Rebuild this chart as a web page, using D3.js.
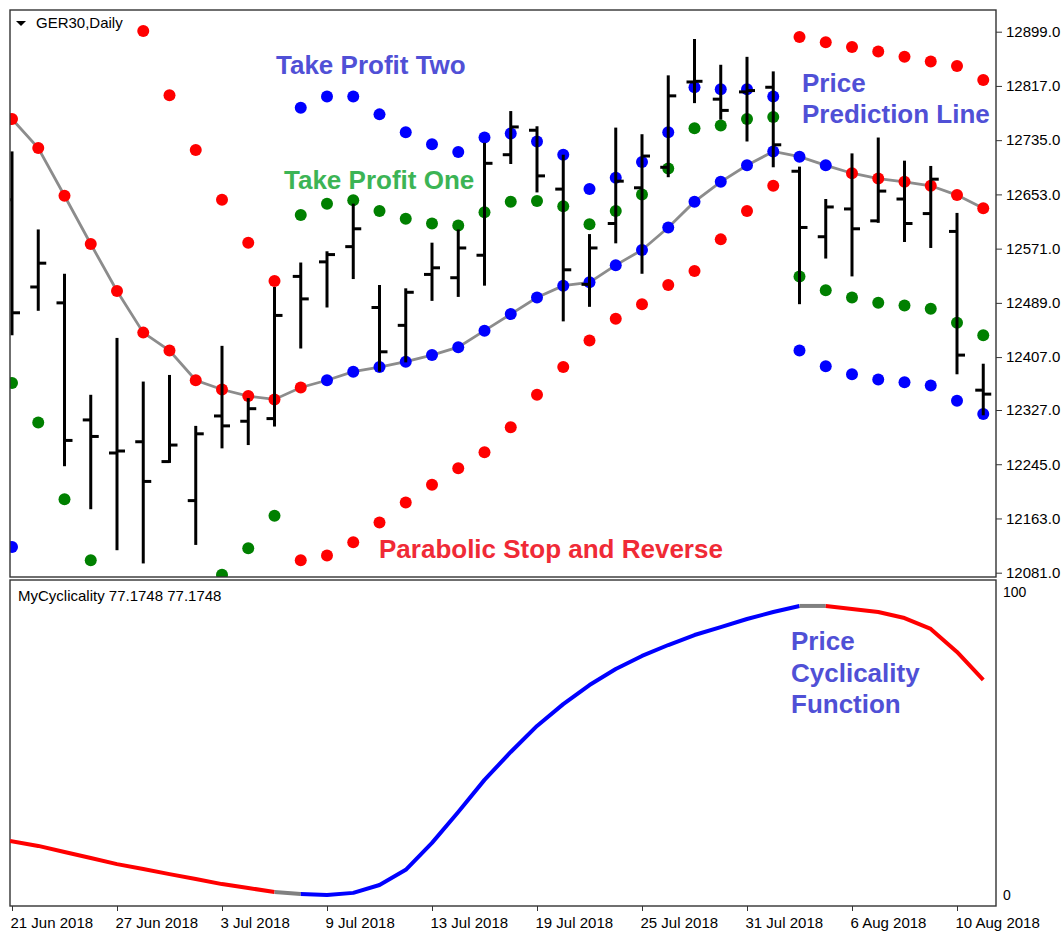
<!DOCTYPE html>
<html>
<head>
<meta charset="utf-8">
<script src="https://cdn.jsdelivr.net/npm/d3@7.9.0/dist/d3.min.js"></script>
<style>
  body { margin: 0; background: #fff; }
  svg text { font-family: "Liberation Sans", Arial, sans-serif; }
</style>
</head>
<body>
<svg id="chart" width="1063" height="933"></svg>
<script>
// GER30 daily bars, 21 Jun - 13 Aug 2018
const dates = ["2018-06-21","2018-06-22","2018-06-25","2018-06-26","2018-06-27","2018-06-28","2018-06-29",
  "2018-07-02","2018-07-03","2018-07-04","2018-07-05","2018-07-06","2018-07-09","2018-07-10","2018-07-11",
  "2018-07-12","2018-07-13","2018-07-16","2018-07-17","2018-07-18","2018-07-19","2018-07-20","2018-07-23",
  "2018-07-24","2018-07-25","2018-07-26","2018-07-27","2018-07-30","2018-07-31","2018-08-01","2018-08-02",
  "2018-08-03","2018-08-06","2018-08-07","2018-08-08","2018-08-09","2018-08-10","2018-08-13"];

const opens  = [12645,12513,12489,12312,12262,12279,12249,12190,12318,12310,12314,12529,12551,12574,12482,12455,12532,12527,12561,12713,12750,12661,12517,12609,12663,12694,12823,12797,12808,12815,12688,12589,12631,12613,12646,12624,12597,12357];
const highs  = [12718,12600,12533,12350,12436,12370,12380,12303,12424,12345,12513,12550,12567,12639,12516,12511,12580,12600,12731,12779,12756,12713,12593,12754,12744,12833,12888,12849,12861,12839,12695,12646,12715,12739,12704,12696,12625,12397];
const lows   = [12440,12477,12242,12177,12115,12095,12247,12123,12269,12274,12302,12420,12482,12525,12385,12399,12492,12498,12515,12699,12656,12461,12483,12579,12533,12679,12791,12766,12733,12694,12487,12556,12529,12610,12581,12572,12381,12319];
const closes = [12474,12549,12281,12287,12265,12219,12274,12291,12303,12329,12470,12495,12562,12601,12415,12505,12542,12572,12700,12755,12681,12539,12572,12673,12711,12802,12824,12780,12810,12728,12603,12634,12601,12658,12609,12676,12410,12351];

const prediction = [12767,12723,12651,12578,12507,12444,12417,12372,12358,12348,12343,12361,12372,12385,12392,12400,12410,12422,12447,12472,12497,12515,12520,12546,12569,12603,12642,12672,12697,12718,12710,12697,12685,12677,12672,12666,12652,12632];

const sar = [null,null,null,null,null,12900,12803,12720,12645,12580,12522,12100,12107,12127,12157,12187,12214,12239,12263,12301,12350,12392,12432,12465,12487,12516,12537,12585,12628,12666,12891,12883,12876,12869,12861,12854,12847,12826];

const takeProfitOne = [12368,12308,12192,12100,null,null,null,null,12078,12118,12167,12622,12639,12644,12628,12616,12609,12606,12626,12642,12643,12635,12608,12628,12653,12692,12753,12757,12767,12770,12529,12508,12497,12489,12485,12480,12459,12440];

const takeProfitTwo = [12120,null,null,null,null,null,null,null,null,null,null,12784,12801,12801,12774,12747,12729,12717,12739,12745,12733,12713,12661,12678,12702,12747,12815,12812,12812,12801,12417,12393,12381,12373,12369,12364,12341,12321];

const cyclicality = [17.8,16.2,14.2,12.2,10.2,8.6,6.9,5.3,3.6,2.3,1.0,0.3,0,0.7,3.3,8.3,17.2,27.4,38.0,47.2,55.8,63.0,69.3,74.6,78.9,82.5,85.8,88.4,91.1,93.4,95.4,95.4,94.4,93.4,91.4,87.8,80.2,71.0];

// cycle phase per bar: dn = falling, up = rising, flat = turning
const trend = ["dn","dn","dn","dn","dn","dn","dn","dn","dn","dn","dn","flat",
  "up","up","up","up","up","up","up","up","up","up","up","up","up","up","up","up","up","up","up",
  "flat","dn","dn","dn","dn","dn","dn"];

const priceTicks = [12899,12817,12735,12653,12571,12489,12407,12327,12245,12163,12081];
const dateTicks = ["2018-06-21","2018-06-27","2018-07-03","2018-07-09","2018-07-13","2018-07-19","2018-07-25","2018-07-31","2018-08-06","2018-08-10"];

const svg = d3.select("#chart");
const parse = d3.timeParse("%Y-%m-%d");
const fmt = d3.timeFormat("%-d %b %Y");

const x = d3.scalePoint().domain(dates).range([12, 983.25]);
const y = d3.scaleLinear().domain([12081, 12899]).range([572.7, 31.7]);
const yc = d3.scaleLinear().domain([0, 100]).range([895, 592]);

const phaseColor = { dn: "#ff0000", up: "#0000ff", flat: "#808080" };

// dot colour follows the last non-flat phase
let lastPhase = "dn";
const dotColors = trend.map(t => { if (t !== "flat") lastPhase = t; return phaseColor[lastPhase]; });

svg.append("clipPath").attr("id", "clipTop")
  .append("rect").attr("x", 10).attr("y", 10).attr("width", 986).attr("height", 567);
svg.append("clipPath").attr("id", "clipBot")
  .append("rect").attr("x", 10).attr("y", 580).attr("width", 986).attr("height", 326);

const upper = svg.append("g").attr("clip-path", "url(#clipTop)");

// prediction line
upper.append("path")
  .attr("d", d3.line().x((d, i) => x(dates[i])).y(d => y(d))(prediction))
  .attr("fill", "none").attr("stroke", "#8c8c8c").attr("stroke-width", 2.8);

function dots(values, color) {
  upper.append("g").selectAll("circle")
    .data(values.map((v, i) => ({ v, i })).filter(d => d.v != null))
    .join("circle")
    .attr("cx", d => x(dates[d.i]))
    .attr("cy", d => y(d.v))
    .attr("r", 6)
    .attr("fill", typeof color === "function" ? d => color(d) : color);
}

dots(sar, "#ff0000");
dots(takeProfitOne, "#008000");
dots(takeProfitTwo, "#0000ff");
dots(prediction, d => dotColors[d.i]);

// OHLC bars
const bars = upper.append("g").attr("stroke", "#000").attr("stroke-width", 3);
dates.forEach((d, i) => {
  const cx = x(d);
  bars.append("line").attr("x1", cx).attr("x2", cx).attr("y1", y(highs[i])).attr("y2", y(lows[i]));
  bars.append("line").attr("x1", cx - 8).attr("x2", cx).attr("y1", y(opens[i])).attr("y2", y(opens[i]));
  bars.append("line").attr("x1", cx).attr("x2", cx + 8).attr("y1", y(closes[i])).attr("y2", y(closes[i]));
});

// frames
svg.append("rect").attr("x", 10).attr("y", 10).attr("width", 986).attr("height", 567)
  .attr("fill", "none").attr("stroke", "#333").attr("stroke-width", 1.4);
svg.append("rect").attr("x", 10).attr("y", 580).attr("width", 986).attr("height", 326)
  .attr("fill", "none").attr("stroke", "#333").attr("stroke-width", 1.4);

// price axis
const ay = svg.append("g").attr("transform", "translate(996,0)")
  .call(d3.axisRight(y).tickValues(priceTicks).tickSize(6).tickPadding(4).tickFormat(d => d.toFixed(1)));
ay.select(".domain").remove();
ay.selectAll("text").attr("font-size", 15).attr("font-family", "Liberation Sans, Arial").attr("fill", "#000");
ay.selectAll("line").attr("stroke", "#333");

// lower indicator
const bot = svg.append("g").attr("clip-path", "url(#clipBot)");
let runs = [];
for (let i = 1; i < dates.length; i++) {
  const c = phaseColor[trend[i]];
  if (!runs.length || runs[runs.length - 1].c !== c) runs.push({ c, pts: [i - 1] });
  runs[runs.length - 1].pts.push(i);
}
const cycLine = d3.line().x(i => i === 0 ? 10 : x(dates[i])).y(i => yc(cyclicality[i]));
runs.forEach(r => {
  bot.append("path").attr("d", cycLine(r.pts))
    .attr("fill", "none").attr("stroke", r.c).attr("stroke-width", 4)
    .attr("stroke-linejoin", "round");
});

const ac = svg.append("g").attr("transform", "translate(996,0)")
  .call(d3.axisRight(yc).tickValues([0, 100]).tickSize(0).tickPadding(7).tickFormat(d3.format("d")));
ac.select(".domain").remove();
ac.selectAll("text").attr("font-size", 14).attr("font-family", "Liberation Sans, Arial").attr("fill", "#000");

// date axis
const ax = svg.append("g").attr("transform", "translate(0,906)")
  .call(d3.axisBottom(x).tickValues(dateTicks).tickSize(5).tickPadding(6).tickFormat(d => fmt(parse(d))));
ax.select(".domain").remove();
ax.selectAll("line").attr("stroke", "#333");
ax.selectAll("text").attr("font-size", 15).attr("font-family", "Liberation Sans, Arial")
  .attr("fill", "#000").attr("text-anchor", "start").attr("dx", -2);

// headers
svg.append("path").attr("d", "M16,21 L26,21 L21,26 Z").attr("fill", "#000");
svg.append("text").attr("x", 36).attr("y", 28).attr("font-size", 15).text("GER30,Daily");
svg.append("text").attr("x", 18).attr("y", 601).attr("font-size", 15).text("MyCyclicality 77.1748 77.1748");

// annotations
const notes = [
  { t: "Take Profit Two", x: 276, y: 74, c: "#5050d6" },
  { t: "Take Profit One", x: 284, y: 189, c: "#3cb455" },
  { t: "Price", x: 802, y: 92, c: "#5050d6" },
  { t: "Prediction Line", x: 802, y: 123, c: "#5050d6" },
  { t: "Parabolic Stop and Reverse", x: 379, y: 558, c: "#f02a36" },
  { t: "Price", x: 791, y: 650, c: "#5050d6" },
  { t: "Cyclicality", x: 791, y: 682, c: "#5050d6" },
  { t: "Function", x: 791, y: 713, c: "#5050d6" }
];
svg.append("g").selectAll("text").data(notes).join("text")
  .attr("x", d => d.x).attr("y", d => d.y)
  .attr("font-size", 26).attr("font-weight", "bold")
  .attr("fill", d => d.c).text(d => d.t);
</script>
</body>
</html>
